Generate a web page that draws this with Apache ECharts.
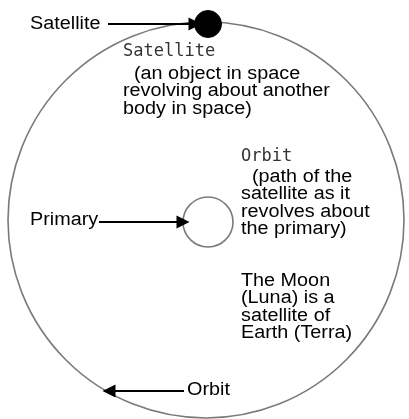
<!DOCTYPE html>
<html>
<head>
<meta charset="utf-8">
<script src="https://cdn.jsdelivr.net/npm/echarts@6/dist/echarts.min.js"></script>
<style>
html,body{margin:0;padding:0;background:#fff;}
#c{width:409px;height:419px;}
</style>
</head>
<body>
<div id="c"></div>
<script>
// ---- diagram data (coordinates in picture units) ----
const bodyNames = ['Orbit', 'Primary', 'Satellite'];
const bodyCenters = [[206, 220], [208, 222], [208, 24]];
const bodyRadii = [198, 25, 13.5];
const bodyFilled = [0, 0, 1];

const arrowNames = ['Satellite', 'Primary', 'Orbit'];
const arrowStarts = [[108, 24], [99, 222], [184, 391]];
const arrowEnds = [[195, 24], [183, 222], [109, 391]];

const satelliteTitle = 'Satellite';
const satelliteNote = ['  (an object in space', 'revolving about another', 'body in space)'];
const orbitTitle = 'Orbit';
const orbitNote = ['  (path of the', 'satellite as it', 'revolves about', 'the primary)'];
const moonNote = ['The Moon', '(Luna) is a', 'satellite of', 'Earth (Terra)'];

const chart = echarts.init(document.getElementById('c'), null, {renderer: 'canvas'});

const sans = 'Liberation Sans, Arial, Helvetica, sans-serif';
const mono = 'DejaVu Sans Mono, Liberation Mono, monospace';

function label(text, x, y) {
  return {type: 'text', x: x, y: y, scaleX: 1.1, style: {text: text, fill: '#000', font: '18px ' + sans, textVerticalAlign: 'middle'}};
}
function block(lines, x, y) {
  return {type: 'text', x: x, y: y, scaleX: 1.1, style: {text: lines.join('\n'), fill: '#000', font: '18px ' + sans, lineHeight: 17.5, textVerticalAlign: 'top'}};
}
function title(text, x, y) {
  return {type: 'text', x: x, y: y, style: {text: text, fill: '#333', font: '17px ' + mono, textVerticalAlign: 'middle'}};
}

chart.setOption({
  animation: false,
  backgroundColor: '#fff',
  grid: {left: 0, right: 0, top: 0, bottom: 0},
  xAxis: {type: 'value', min: 0, max: 409, show: false},
  yAxis: {type: 'value', min: 0, max: 419, inverse: true, show: false},
  series: [
    {
      type: 'custom',
      coordinateSystem: 'cartesian2d',
      data: bodyNames.map((n, i) => ({name: n, value: [bodyCenters[i][0], bodyCenters[i][1], bodyRadii[i], bodyFilled[i]]})),
      renderItem: function (params, api) {
        const c = api.coord([api.value(0), api.value(1)]);
        const r = api.size([api.value(2), 0])[0];
        const filled = api.value(3) === 1;
        return {
          type: 'circle',
          shape: {cx: c[0], cy: c[1], r: r},
          style: filled ? {fill: '#000', stroke: '#000', lineWidth: 1} : {fill: 'none', stroke: '#7a7a7a', lineWidth: 1.6}
        };
      },
      z: 2
    },
    {
      type: 'lines',
      coordinateSystem: 'cartesian2d',
      symbol: ['none', 'triangle'],
      symbolSize: [10, 13],
      lineStyle: {color: '#000', width: 2, opacity: 1},
      itemStyle: {color: '#000'},
      data: arrowNames.map((n, i) => ({name: n, coords: [arrowStarts[i], arrowEnds[i]]})),
      z: 3
    }
  ],
  graphic: [
    label('Satellite', 30, 24),
    label('Primary', 30, 220),
    label('Orbit', 187, 390),
    title(satelliteTitle, 123, 52),
    block(satelliteNote, 123, 65),
    title(orbitTitle, 241, 157),
    block(orbitNote, 241, 168),
    block(moonNote, 241, 272)
  ]
});
</script>
</body>
</html>
